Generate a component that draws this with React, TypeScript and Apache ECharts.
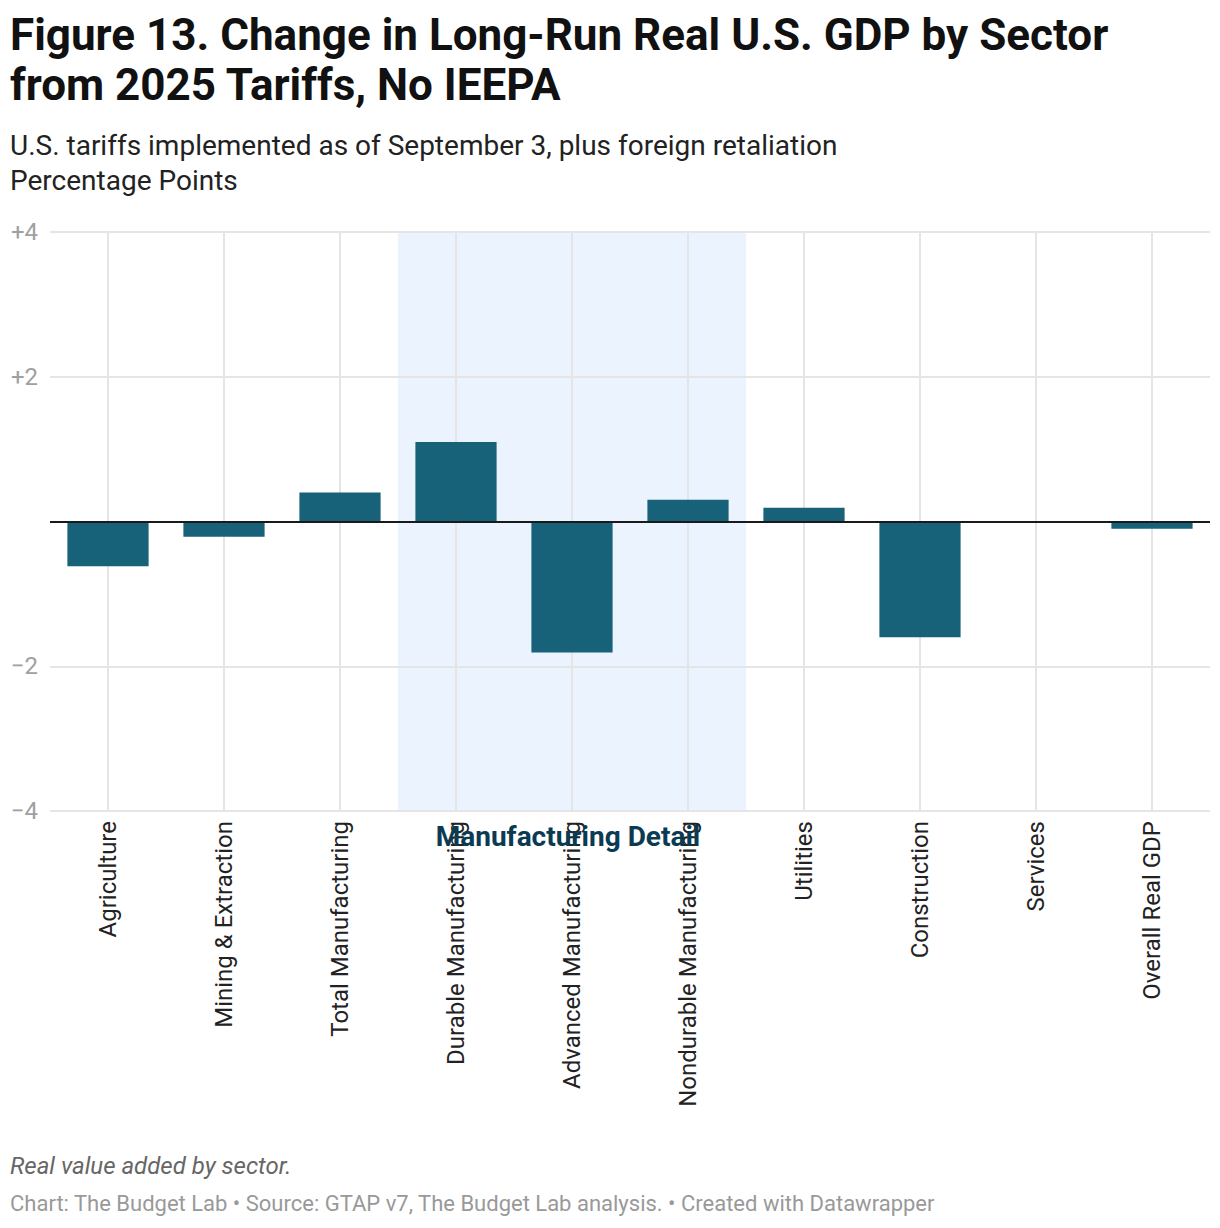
import React, { useEffect, useRef } from "react";
import * as echarts from "echarts";

const categories = [
  "Agriculture",
  "Mining & Extraction",
  "Total Manufacturing",
  "Durable Manufacturing",
  "Advanced Manufacturing",
  "Nondurable Manufacturing",
  "Utilities",
  "Construction",
  "Services",
  "Overall Real GDP",
];
const values = [-0.62, -0.21, 0.4, 1.1, -1.81, 0.3, 0.19, -1.6, 0, -0.1];
const yTicks = [-4, -2, 2, 4];
const highlightFrom = "Durable Manufacturing";
const highlightTo = "Nondurable Manufacturing";
const highlightLabel = "Manufacturing Detail";

const FONT = "Roboto, 'Noto Sans', sans-serif";

export default function App() {
  const ref = useRef<HTMLDivElement>(null);
  useEffect(() => {
    document.body.style.margin = "0";
    if (!ref.current) return;
    const chart = echarts.init(ref.current, null, { renderer: "svg" });
    const n = categories.length;
    const fromIdx = categories.indexOf(highlightFrom);
    const toIdx = categories.indexOf(highlightTo);
    chart.setOption({
      animation: false,
      textStyle: { fontFamily: FONT },
      title: [
        {
          text: "Figure 13. Change in Long-Run Real U.S. GDP by Sector\nfrom 2025 Tariffs, No IEEPA",
          left: 10,
          top: 10,
          padding: 0,
          textStyle: { fontFamily: FONT, fontSize: 44, fontWeight: "bold", color: "#111", lineHeight: 50 },
        },
        {
          text: "U.S. tariffs implemented as of September 3, plus foreign retaliation\nPercentage Points",
          left: 10,
          top: 128,
          padding: 0,
          textStyle: { fontFamily: FONT, fontSize: 28, fontWeight: "normal", color: "#222", lineHeight: 35 },
        },
        {
          text: "Real value added by sector.",
          left: 10,
          top: 1154,
          padding: 0,
          textStyle: { fontFamily: FONT, fontSize: 24, fontStyle: "italic", fontWeight: "normal", color: "#666" },
        },
        {
          text: "Chart: The Budget Lab • Source: GTAP v7, The Budget Lab analysis. • Created with Datawrapper",
          left: 10,
          top: 1192,
          padding: 0,
          textStyle: { fontFamily: FONT, fontSize: 22, fontWeight: "normal", color: "#999" },
        },
      ],
      grid: { left: 50, right: 10, top: 232, bottom: 417, containLabel: false },
      xAxis: [
        {
          type: "category",
          data: categories,
          axisLine: { show: false },
          axisTick: { show: false },
          splitLine: { show: false },
          axisLabel: {
            rotate: 90,
            interval: 0,
            margin: 10,
            fontFamily: FONT,
            fontSize: 24,
            color: "#222",
          },
        },
        {
          type: "value",
          min: 0,
          max: n,
          show: false,
          splitLine: { show: false },
        },
      ],
      yAxis: {
        type: "value",
        min: -4,
        max: 4,
        interval: 2,
        axisLine: { show: false },
        axisTick: { show: false },
        splitLine: { show: false },
        axisLabel: {
          margin: 12,
          fontFamily: FONT,
          fontSize: 24,
          color: "#a0a0a0",
          formatter: (v: number) => (v > 0 ? "+" + v : v < 0 ? "\u2212" + Math.abs(v) : ""),
        },
      },
      series: [
        {
          type: "line",
          xAxisIndex: 1,
          data: [],
          silent: true,
          showSymbol: false,
          markArea: {
            silent: true,
            z: 0,
            itemStyle: { color: "#ebf3fe" },
            data: [[{ xAxis: fromIdx }, { xAxis: toIdx + 1 }]],
          },
          markLine: {
            silent: true,
            z: 1,
            symbol: "none",
            label: { show: false },
            lineStyle: { color: "#e5e5e5", width: 2, type: "solid" },
            data: [
              ...categories.map((_, i) => ({ xAxis: i + 0.5 })),
              ...yTicks.map((t) => ({ yAxis: t })),
            ],
          },
        },
        {
          type: "bar",
          data: values,
          barWidth: "70%",
          z: 3,
          itemStyle: { color: "#176179" },
          markLine: {
            silent: true,
            z: 5,
            symbol: "none",
            label: { show: false },
            lineStyle: { color: "#1a1a1a", width: 2, type: "solid" },
            data: [{ yAxis: 0 }],
          },
        },
      ],
      graphic: [
        {
          type: "text",
          x: 568,
          y: 836,
          z: 10,
          style: {
            text: highlightLabel,
            fontFamily: FONT,
            fontSize: 28,
            fontWeight: "bold",
            fill: "#0b3a53",
            textAlign: "center",
            textVerticalAlign: "middle",
          },
        },
      ],
    });
    return () => chart.dispose();
  }, []);
  return <div ref={ref} style={{ width: 1220, height: 1228 }} />;
}
